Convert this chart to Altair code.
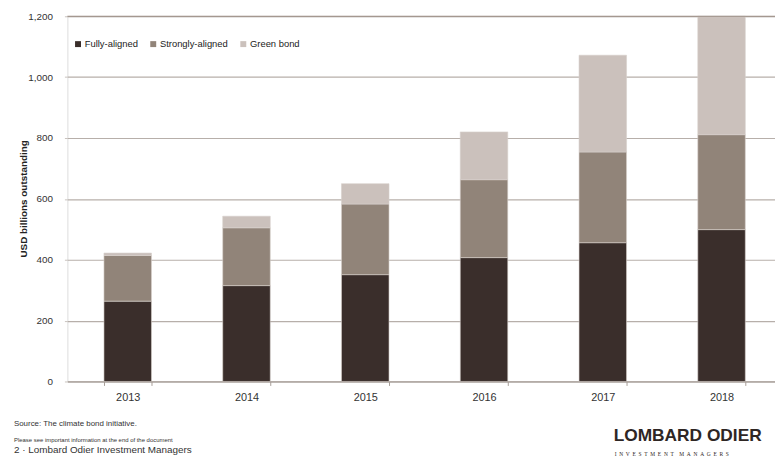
import altair as alt
import pandas as pd

years = ["2013", "2014", "2015", "2016", "2017", "2018"]
fully = [264, 315, 351, 407, 456, 499]
strongly = [150, 190, 232, 256, 298, 312]
green = [8, 38, 67, 157, 318, 389]
categories = ["Fully-aligned", "Strongly-aligned", "Green bond"]
colors = ["#3a2e2b", "#918479", "#cbc1bc"]

rows = []
for i, y in enumerate(years):
    for k, (cat, vals) in enumerate(zip(categories, [fully, strongly, green])):
        rows.append({"year": y, "cat": cat, "value": vals[i], "ord": k})
df = pd.DataFrame(rows)

FONT = "Liberation Sans"

bars = alt.Chart(df).mark_bar(stroke="#d6cfcb", strokeWidth=0.6).encode(
    x=alt.X("year:N", title=None,
            scale=alt.Scale(paddingInner=0.6, paddingOuter=0.279, align=0.552),
            axis=alt.Axis(labelAngle=0, tickBand="extent", domainColor="#a69d97",
                          tickColor="#a69d97", tickSize=4, labelPadding=6,
                          labelFontSize=11, labelColor="#333333", labelFont=FONT,
                          grid=False)),
    y=alt.Y("value:Q", title="USD billions outstanding", stack="zero",
            scale=alt.Scale(domain=[0, 1200], nice=False),
            axis=alt.Axis(values=[0, 200, 400, 600, 800, 1000, 1200],
                          format=",.0f", formatType="number",
                          domain=False, tickSize=3, tickColor="#c8c2be",
                          labelPadding=12, labelFontSize=10, labelColor="#333333",
                          labelFont=FONT, gridColor="#b7afaa", gridWidth=1.2,
                          titleFont=FONT, titleFontSize=10, titleFontWeight="bold",
                          titleColor="#222222", titleAngle=-90, titleX=-44,
                          titleY=184, titleAlign="center", titleBaseline="middle")),
    color=alt.Color("cat:N", scale=alt.Scale(domain=categories, range=colors),
                    legend=alt.Legend(title=None, orient="none", direction="horizontal",
                                      legendX=6, legendY=23, symbolType="square",
                                      symbolSize=36, symbolStrokeWidth=0,
                                      labelFont=FONT, labelFontSize=9.5,
                                      labelColor="#222222", labelOffset=2,
                                      columnPadding=10, padding=0)),
    order=alt.Order("ord:Q"),
)

top_rule = alt.Chart(alt.Data(values=[{"v": 1200}])).mark_rule(
    color="#9a8c83", strokeWidth=1.2).encode(y="v:Q")

def txt(s, x, y, size, weight="normal", font=FONT, color="#333333"):
    return alt.Chart(alt.Data(values=[{}])).mark_text(
        text=s, align="left", baseline="middle", fontSize=size, fontWeight=weight,
        font=font, color=color).encode(x=alt.value(x), y=alt.value(y))

SP = "\u2002"
invest = SP.join("INVESTMENT") + SP * 2 + SP.join("MANAGERS")

footer = [
    txt("Source: The climate bond initiative.", -54, 412, 8),
    txt("Please see important information at the end of the document", -54, 428.5, 6),
    txt("2 · Lombard Odier Investment Managers", -54, 438.5, 10),
    txt("LOMBARD ODIER", 552, 424, 17.5, "bold", color="#2e2624"),
    txt(invest, 553, 442, 5.5, font="Liberation Serif", color="#2e2624"),
]

chart = alt.layer(bars, top_rule, *footer).properties(
    width=715, height=369,
    autosize=alt.AutoSizeParams(type="none"),
    padding={"left": 60, "top": 6, "right": 0, "bottom": 78},
).configure_view(stroke=None).configure(background="white")

chart.save("out.html", embed_options={"renderer": "svg", "actions": False})
